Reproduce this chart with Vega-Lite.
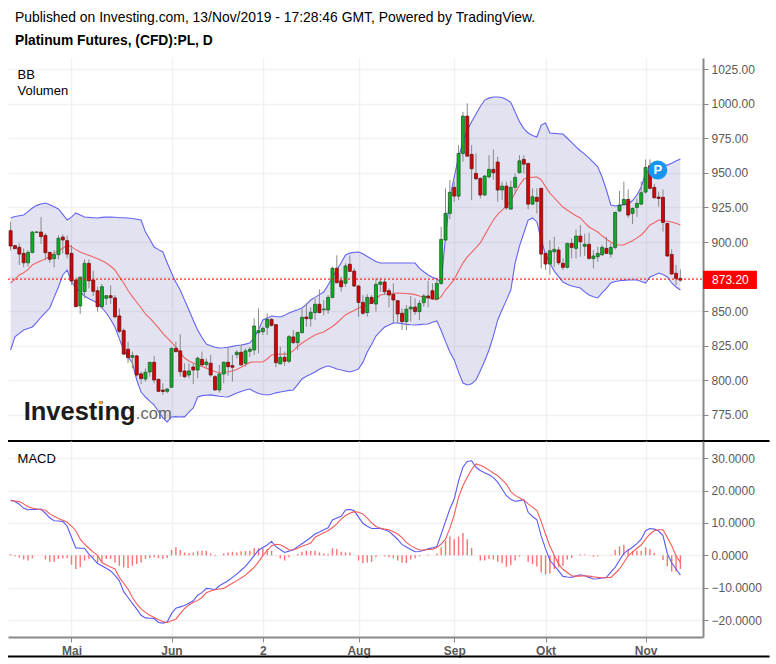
{
  "$schema": "https://vega.github.io/schema/vega-lite/v6.json",
  "padding": {"left": 7, "top": 11, "right": 6, "bottom": 6},
  "background": "white",
  "bounds": "flush",
  "spacing": 0,
  "data": {"values": [
{"i":0,"o":908.2,"h":914.7,"l":894,"c":897.1,"up":917.4,"mid":870.4,"lo":822,"macd":17.1,"sig":16.9,"hist":0.4},
{"i":1,"o":897.4,"h":897.6,"l":895,"c":895.2,"up":918.5,"mid":873,"lo":831.4,"macd":16.6,"sig":16.8,"hist":-0.3},
{"i":2,"o":896.2,"h":899,"l":883.4,"c":891.3,"up":919,"mid":876.2,"lo":834,"macd":15.8,"sig":16.6,"hist":-0.7},
{"i":3,"o":891.8,"h":895.4,"l":881.7,"c":885,"up":919.5,"mid":877.8,"lo":836.4,"macd":14.5,"sig":15.9,"hist":-1.3},
{"i":4,"o":885,"h":894.2,"l":882.2,"c":892.5,"up":922,"mid":880,"lo":837.5,"macd":14.1,"sig":15,"hist":-1.6},
{"i":5,"o":892.5,"h":908,"l":891.8,"c":907.2,"up":924.6,"mid":883.4,"lo":838.6,"macd":14.2,"sig":14.6,"hist":-0.9},
{"i":6,"o":907,"h":907.5,"l":906.8,"c":907.3,"up":926.5,"mid":885,"lo":842,"macd":14.2,"sig":14.3,"hist":0},
{"i":7,"o":907.2,"h":918,"l":898.6,"c":903.9,"up":927.5,"mid":886.5,"lo":845.8,"macd":14.3,"sig":14.1,"hist":0},
{"i":8,"o":904.8,"h":906.3,"l":887,"c":892.3,"up":928.2,"mid":887.7,"lo":849,"macd":13,"sig":14,"hist":-1.3},
{"i":9,"o":892.5,"h":893,"l":885,"c":887.5,"up":927,"mid":889.5,"lo":852.3,"macd":11.6,"sig":12.8,"hist":-2},
{"i":10,"o":888,"h":894.2,"l":881.7,"c":890.9,"up":925.5,"mid":892,"lo":860,"macd":10.7,"sig":12.1,"hist":-2},
{"i":11,"o":890.9,"h":905,"l":887.5,"c":902.7,"up":923.9,"mid":893.5,"lo":867.5,"macd":10.6,"sig":11.4,"hist":-1.1},
{"i":12,"o":903.6,"h":905.5,"l":891.8,"c":901.5,"up":920,"mid":895.5,"lo":876.2,"macd":10.5,"sig":10.8,"hist":-0.9},
{"i":13,"o":901,"h":904.6,"l":888.2,"c":891.3,"up":915.9,"mid":897.9,"lo":879.8,"macd":9,"sig":10.2,"hist":-0.9},
{"i":14,"o":891.8,"h":897.8,"l":869,"c":871.8,"up":918,"mid":896.5,"lo":871.1,"macd":5.6,"sig":9,"hist":-2.9},
{"i":15,"o":872.5,"h":873.7,"l":853,"c":853.3,"up":921,"mid":894.5,"lo":867,"macd":2.3,"sig":7.6,"hist":-4.2},
{"i":16,"o":853.8,"h":875.4,"l":848,"c":874.5,"up":919.5,"mid":892.8,"lo":863.9,"macd":2.2,"sig":5,"hist":-3.7},
{"i":17,"o":864.1,"h":887.5,"l":859.3,"c":884.6,"up":918.1,"mid":891.5,"lo":861,"macd":2.2,"sig":3.5,"hist":-1.6},
{"i":18,"o":884.6,"h":887.5,"l":866.5,"c":872,"up":917.8,"mid":890.5,"lo":859,"macd":0.4,"sig":2.2,"hist":-1.1},
{"i":19,"o":872.6,"h":879.3,"l":861,"c":864.4,"up":917.6,"mid":889.2,"lo":857.5,"macd":-1,"sig":1,"hist":-0.6},
{"i":20,"o":864.8,"h":867.7,"l":849.7,"c":853.3,"up":917.4,"mid":888,"lo":855.9,"macd":-2.5,"sig":0,"hist":-2.2},
{"i":21,"o":853.3,"h":869.7,"l":852,"c":867.7,"up":917.8,"mid":886.5,"lo":852.5,"macd":-3.2,"sig":-2.2,"hist":-2},
{"i":22,"o":859.3,"h":861.7,"l":854.5,"c":861.2,"up":918,"mid":884.8,"lo":848.7,"macd":-4,"sig":-3,"hist":-1.1},
{"i":23,"o":861.2,"h":868.7,"l":855.2,"c":859.8,"up":918.1,"mid":882.5,"lo":844,"macd":-4.8,"sig":-3.6,"hist":-1.1},
{"i":24,"o":859.6,"h":861.7,"l":844.9,"c":846,"up":917.9,"mid":879.8,"lo":838.6,"macd":-6.2,"sig":-4.2,"hist":-2.2},
{"i":25,"o":846.6,"h":852,"l":834,"c":835.5,"up":917.6,"mid":875,"lo":830,"macd":-7.85,"sig":-6.8,"hist":-3.2},
{"i":26,"o":836,"h":837.6,"l":818.4,"c":819,"up":917.5,"mid":870.4,"lo":822,"macd":-11.2,"sig":-8.6,"hist":-3.7},
{"i":27,"o":822.5,"h":828,"l":812.4,"c":816.4,"up":917.4,"mid":865,"lo":817,"macd":-13,"sig":-10.4,"hist":-3.9},
{"i":28,"o":816.7,"h":820.8,"l":808.7,"c":817.9,"up":917,"mid":860.5,"lo":812.6,"macd":-14.8,"sig":-13,"hist":-3.2},
{"i":29,"o":817.7,"h":818.4,"l":802.7,"c":803.9,"up":916.5,"mid":856.5,"lo":800.3,"macd":-16.6,"sig":-15,"hist":-2.7},
{"i":30,"o":804.7,"h":806.3,"l":797.4,"c":801.3,"up":915.9,"mid":852.5,"lo":791.6,"macd":-18.5,"sig":-16.5,"hist":-2.2},
{"i":31,"o":801,"h":808.7,"l":799.1,"c":805.9,"up":907.2,"mid":848,"lo":788,"macd":-19.3,"sig":-17.6,"hist":-1.1},
{"i":32,"o":806.1,"h":813.2,"l":802.7,"c":813.1,"up":902,"mid":845,"lo":785,"macd":-19.4,"sig":-18.5,"hist":-0.8},
{"i":33,"o":813.1,"h":817.7,"l":798,"c":800.3,"up":896.4,"mid":841.5,"lo":782.2,"macd":-19.5,"sig":-19.2,"hist":-0.6},
{"i":34,"o":800.8,"h":801,"l":791.6,"c":792.1,"up":894.5,"mid":838,"lo":777.5,"macd":-20.7,"sig":-19.9,"hist":-0.9},
{"i":35,"o":793,"h":797.9,"l":789.5,"c":792,"up":892.8,"mid":834,"lo":772.9,"macd":-20.9,"sig":-20.4,"hist":-1.1},
{"i":36,"o":792.1,"h":794.3,"l":790.7,"c":793.8,"up":885,"mid":830.7,"lo":770,"macd":-20.6,"sig":-20.7,"hist":-0.8},
{"i":37,"o":795,"h":823.7,"l":795,"c":823.2,"up":877.6,"mid":827.5,"lo":773.6,"macd":-18,"sig":-20.2,"hist":1.65},
{"i":38,"o":823.2,"h":828,"l":820.3,"c":820.8,"up":871,"mid":824.1,"lo":773.8,"macd":-16.3,"sig":-19.7,"hist":2.5},
{"i":39,"o":821.3,"h":833.3,"l":802.7,"c":806.3,"up":865.3,"mid":820,"lo":773.6,"macd":-15.9,"sig":-18,"hist":1.65},
{"i":40,"o":806.8,"h":812.4,"l":801.5,"c":802.7,"up":858,"mid":816.2,"lo":773.6,"macd":-15.5,"sig":-16.4,"hist":0.9},
{"i":41,"o":803.9,"h":812.4,"l":801.5,"c":806.8,"up":850.9,"mid":814,"lo":777,"macd":-14.8,"sig":-15.3,"hist":0.7},
{"i":42,"o":809.7,"h":812.4,"l":797.4,"c":807.5,"up":843.5,"mid":812.5,"lo":780.1,"macd":-14,"sig":-14.5,"hist":0.9},
{"i":43,"o":807.5,"h":817.2,"l":801.5,"c":816,"up":836.4,"mid":811.1,"lo":788,"macd":-12.3,"sig":-13.9,"hist":1.3},
{"i":44,"o":815.2,"h":820.8,"l":810,"c":811.2,"up":831,"mid":810,"lo":789,"macd":-11.5,"sig":-13,"hist":1.4},
{"i":45,"o":811.4,"h":816,"l":808.7,"c":813.3,"up":826.3,"mid":808.8,"lo":789.3,"macd":-10.2,"sig":-11.5,"hist":1.4},
{"i":46,"o":812.4,"h":818.4,"l":802.7,"c":803.9,"up":825,"mid":807.5,"lo":789.5,"macd":-10.3,"sig":-11,"hist":0.6},
{"i":47,"o":802.7,"h":803.9,"l":792.6,"c":793.1,"up":824,"mid":806.5,"lo":789,"macd":-10.6,"sig":-10.6,"hist":-0.3},
{"i":48,"o":793.1,"h":811.2,"l":791.2,"c":804.6,"up":823.4,"mid":805.4,"lo":788.5,"macd":-9.4,"sig":-10.4,"hist":0},
{"i":49,"o":804.6,"h":813.6,"l":797.9,"c":813.1,"up":823.6,"mid":805.7,"lo":788.2,"macd":-8.6,"sig":-10.2,"hist":0.6},
{"i":50,"o":813.1,"h":824.4,"l":803.2,"c":809.9,"up":824,"mid":806.2,"lo":788,"macd":-7.85,"sig":-9.4,"hist":0.9},
{"i":51,"o":810.7,"h":818.4,"l":799.1,"c":809.5,"up":824.6,"mid":806.8,"lo":789.5,"macd":-6.8,"sig":-8.6,"hist":1.1},
{"i":52,"o":818.6,"h":822,"l":816,"c":820.3,"up":825.2,"mid":807.8,"lo":790.9,"macd":-5.8,"sig":-7.8,"hist":0.9},
{"i":53,"o":820.3,"h":825.6,"l":810.7,"c":811.2,"up":825.6,"mid":809.5,"lo":792,"macd":-4.6,"sig":-7,"hist":1.3},
{"i":54,"o":812.4,"h":823.2,"l":810,"c":821.3,"up":826.2,"mid":811.1,"lo":793,"macd":-3.4,"sig":-6.1,"hist":1.3},
{"i":55,"o":821,"h":824,"l":817,"c":822.5,"up":827,"mid":813,"lo":793.8,"macd":-1.8,"sig":-4.9,"hist":1.4},
{"i":56,"o":822,"h":844.9,"l":818.4,"c":839.3,"up":831,"mid":813.3,"lo":792,"macd":-0.1,"sig":-3.7,"hist":2.3},
{"i":57,"o":834.5,"h":852,"l":819.6,"c":836,"up":836.4,"mid":813.3,"lo":790.5,"macd":1.6,"sig":-2,"hist":2.2},
{"i":58,"o":835.2,"h":839,"l":832.8,"c":837.6,"up":843.7,"mid":813.3,"lo":789.8,"macd":2.4,"sig":-0.1,"hist":2.2},
{"i":59,"o":838.4,"h":848.5,"l":832.8,"c":844.1,"up":845,"mid":815.5,"lo":789.5,"macd":3.2,"sig":1.5,"hist":2},
{"i":60,"o":844.1,"h":844.9,"l":838.8,"c":839.8,"up":846.5,"mid":818.4,"lo":790,"macd":4.3,"sig":3,"hist":1.4},
{"i":61,"o":840.3,"h":840.3,"l":809.5,"c":812.8,"up":846.2,"mid":818.7,"lo":791,"macd":2.7,"sig":3.4,"hist":0.1},
{"i":62,"o":811.9,"h":824.4,"l":811.9,"c":816.7,"up":845.8,"mid":819,"lo":791.6,"macd":1.8,"sig":3.3,"hist":-0.9},
{"i":63,"o":816.7,"h":820.8,"l":810.4,"c":813.8,"up":847,"mid":819,"lo":792.2,"macd":0.9,"sig":2.6,"hist":-1.6},
{"i":64,"o":813.8,"h":832.8,"l":812.4,"c":831.6,"up":848.7,"mid":819.1,"lo":792.8,"macd":1.3,"sig":1.75,"hist":-0.6},
{"i":65,"o":831.4,"h":836.4,"l":826.3,"c":827.3,"up":850,"mid":821.5,"lo":793.1,"macd":1.75,"sig":1.65,"hist":0},
{"i":66,"o":827.3,"h":834.8,"l":822,"c":834.7,"up":851,"mid":824.5,"lo":797,"macd":2.7,"sig":2.2,"hist":0.4},
{"i":67,"o":834.5,"h":851.4,"l":834,"c":845.6,"up":852.3,"mid":827,"lo":801,"macd":3.6,"sig":2.8,"hist":1.1},
{"i":68,"o":845.8,"h":855.7,"l":838.8,"c":844.6,"up":855,"mid":829,"lo":803,"macd":4.5,"sig":3.3,"hist":1.4},
{"i":69,"o":844.6,"h":852.8,"l":838.8,"c":849.2,"up":858.1,"mid":831,"lo":804.5,"macd":5.5,"sig":3.8,"hist":1.4},
{"i":70,"o":849,"h":859.3,"l":843.6,"c":855,"up":860,"mid":832.8,"lo":806.1,"macd":6.6,"sig":5.6,"hist":1.4},
{"i":71,"o":855,"h":865.8,"l":848.5,"c":849,"up":862,"mid":834,"lo":808,"macd":7.2,"sig":6.3,"hist":0.9},
{"i":72,"o":851,"h":858,"l":847,"c":851.6,"up":863.9,"mid":835,"lo":809.5,"macd":7.9,"sig":7,"hist":0.6},
{"i":73,"o":850.9,"h":861.7,"l":848,"c":860,"up":869,"mid":837,"lo":810.4,"macd":8.5,"sig":7.6,"hist":0.4},
{"i":74,"o":860,"h":882.2,"l":859.3,"c":881,"up":874.7,"mid":839,"lo":809.5,"macd":10.9,"sig":8.6,"hist":2.2},
{"i":75,"o":881,"h":890.4,"l":870.2,"c":870.6,"up":879.8,"mid":841.5,"lo":808.3,"macd":11.5,"sig":9.7,"hist":2},
{"i":76,"o":872,"h":875,"l":864.1,"c":867.7,"up":885,"mid":844.5,"lo":807.5,"macd":12.05,"sig":11.2,"hist":1.1},
{"i":77,"o":870.2,"h":884.6,"l":867.7,"c":882.7,"up":890.6,"mid":847.3,"lo":806.8,"macd":14,"sig":12.3,"hist":0.9},
{"i":78,"o":883.9,"h":890.4,"l":878.6,"c":878.8,"up":892,"mid":849,"lo":806.1,"macd":14.2,"sig":13,"hist":0.9},
{"i":79,"o":879,"h":881,"l":867.5,"c":868.2,"up":892.6,"mid":850.5,"lo":807,"macd":13.8,"sig":13.5,"hist":0},
{"i":80,"o":868.2,"h":869,"l":846,"c":856.4,"up":892.8,"mid":852.3,"lo":808.3,"macd":11.8,"sig":13.3,"hist":-1.6},
{"i":81,"o":856.4,"h":861.7,"l":847.3,"c":848.5,"up":891.5,"mid":853.5,"lo":813,"macd":9.9,"sig":12.8,"hist":-2.4},
{"i":82,"o":849,"h":862.4,"l":846.1,"c":860,"up":889.5,"mid":855,"lo":820.5,"macd":9,"sig":11.5,"hist":-2.2},
{"i":83,"o":860,"h":861.7,"l":855.2,"c":855.7,"up":887.7,"mid":856,"lo":826,"macd":8.3,"sig":10,"hist":-2},
{"i":84,"o":855.2,"h":873.8,"l":849.7,"c":869.4,"up":886,"mid":859,"lo":832,"macd":8.3,"sig":8.9,"hist":-0.6},
{"i":85,"o":869.4,"h":873.8,"l":864.1,"c":871.1,"up":884.8,"mid":861.7,"lo":835.5,"macd":8.3,"sig":8.4,"hist":0},
{"i":86,"o":871.1,"h":873,"l":861.7,"c":864.1,"up":884.8,"mid":862.2,"lo":838.6,"macd":7.9,"sig":8.1,"hist":-0.3},
{"i":87,"o":864.8,"h":866.5,"l":852.8,"c":861.7,"up":884.8,"mid":862.8,"lo":840,"macd":7.4,"sig":7.9,"hist":-0.6},
{"i":88,"o":862.2,"h":870.1,"l":841.3,"c":858.1,"up":884.8,"mid":863,"lo":841.5,"macd":6.2,"sig":7.3,"hist":-0.9},
{"i":89,"o":857.6,"h":858.1,"l":841.3,"c":848,"up":884.8,"mid":863.2,"lo":841.5,"macd":4.9,"sig":6.6,"hist":-1.6},
{"i":90,"o":848.5,"h":852,"l":836.4,"c":842.5,"up":884.8,"mid":863,"lo":841,"macd":3.3,"sig":5.5,"hist":-2.3},
{"i":91,"o":842.5,"h":854.5,"l":836.4,"c":851.4,"up":884.8,"mid":862.8,"lo":840.5,"macd":2.6,"sig":4,"hist":-2.4},
{"i":92,"o":851.6,"h":861,"l":842.5,"c":853,"up":884.8,"mid":862.5,"lo":840.2,"macd":1.8,"sig":3,"hist":-1.3},
{"i":93,"o":853,"h":859.3,"l":847.3,"c":849.7,"up":884.8,"mid":862,"lo":840,"macd":1.1,"sig":2.3,"hist":-0.9},
{"i":94,"o":849.7,"h":858.1,"l":843.6,"c":855.7,"up":881,"mid":861,"lo":840.3,"macd":1.2,"sig":1.65,"hist":-0.3},
{"i":95,"o":856.2,"h":862.4,"l":853.3,"c":861,"up":878.5,"mid":860.3,"lo":840.6,"macd":1.6,"sig":1.7,"hist":0},
{"i":96,"o":861,"h":872,"l":852.8,"c":859.8,"up":876.2,"mid":859.5,"lo":840.8,"macd":2,"sig":1.8,"hist":0.3},
{"i":97,"o":864.8,"h":870.1,"l":858.1,"c":859,"up":874.5,"mid":858.8,"lo":842,"macd":2.3,"sig":1.9,"hist":0},
{"i":98,"o":858.8,"h":872.6,"l":858.1,"c":870.1,"up":873.3,"mid":858.1,"lo":843,"macd":2.7,"sig":2.4,"hist":0.6},
{"i":99,"o":870.1,"h":911,"l":869,"c":901.9,"up":871,"mid":860.5,"lo":836,"macd":6.5,"sig":3.5,"hist":2.5},
{"i":100,"o":901.4,"h":938.8,"l":900.9,"c":920.7,"up":903.6,"mid":865.3,"lo":828,"macd":10.5,"sig":5,"hist":4.5},
{"i":101,"o":920.7,"h":944.8,"l":916.4,"c":935.9,"up":932.5,"mid":869,"lo":820.5,"macd":14.3,"sig":8.4,"hist":5.8},
{"i":102,"o":939.5,"h":943.6,"l":929.1,"c":933.2,"up":947,"mid":873,"lo":814.8,"macd":17.4,"sig":12.5,"hist":5},
{"i":103,"o":933.2,"h":970.1,"l":930.3,"c":964,"up":961.4,"mid":879,"lo":806,"macd":23,"sig":18,"hist":5.8},
{"i":104,"o":964,"h":994.1,"l":958,"c":991,"up":972,"mid":884.8,"lo":798.1,"macd":27.2,"sig":21.5,"hist":6.9},
{"i":105,"o":991,"h":1000.2,"l":961.6,"c":962.1,"up":980.9,"mid":889.2,"lo":796.7,"macd":29,"sig":24.1,"hist":5},
{"i":106,"o":963.3,"h":970.1,"l":930.3,"c":953,"up":987,"mid":892.5,"lo":797.5,"macd":29.2,"sig":26.5,"hist":2.3},
{"i":107,"o":949.6,"h":964,"l":944.8,"c":945.7,"up":992.5,"mid":896,"lo":800.3,"macd":27.2,"sig":28.2,"hist":0},
{"i":108,"o":946,"h":946.7,"l":931.5,"c":934,"up":998,"mid":899.3,"lo":807,"macd":26.2,"sig":27.8,"hist":-1.6},
{"i":109,"o":934,"h":948.4,"l":933.2,"c":947.7,"up":1002.6,"mid":905,"lo":814,"macd":25.5,"sig":27.2,"hist":-1.6},
{"i":110,"o":947.2,"h":962.8,"l":946,"c":952.5,"up":1004,"mid":910.5,"lo":822,"macd":24.9,"sig":26.3,"hist":-1.1},
{"i":111,"o":952.5,"h":966.9,"l":945,"c":950.1,"up":1004.8,"mid":915.9,"lo":832,"macd":24,"sig":25.4,"hist":-1.3},
{"i":112,"o":957.8,"h":961.6,"l":929.1,"c":937.6,"up":1004.8,"mid":920,"lo":843.7,"macd":22.6,"sig":24.6,"hist":-2},
{"i":113,"o":937.6,"h":943.6,"l":930.3,"c":940.4,"up":1004.5,"mid":923,"lo":851,"macd":20.5,"sig":23.3,"hist":-2.4},
{"i":114,"o":940.4,"h":943.6,"l":923.1,"c":924.8,"up":1003,"mid":926,"lo":858,"macd":18.4,"sig":22,"hist":-3.5},
{"i":115,"o":923.8,"h":944.3,"l":923.6,"c":939.5,"up":1001,"mid":930,"lo":865.3,"macd":17.3,"sig":19.7,"hist":-3},
{"i":116,"o":939.5,"h":949.6,"l":935,"c":946.7,"up":994,"mid":935.4,"lo":884.8,"macd":16.7,"sig":18.5,"hist":-1.6},
{"i":117,"o":950.1,"h":962.8,"l":949.6,"c":958.7,"up":987,"mid":941,"lo":897,"macd":16.9,"sig":17.7,"hist":-0.4},
{"i":118,"o":959.7,"h":962.8,"l":949.6,"c":956.3,"up":982,"mid":945.5,"lo":906.5,"macd":17.2,"sig":17.1,"hist":0},
{"i":119,"o":956.8,"h":956.8,"l":923.6,"c":927.4,"up":978.8,"mid":946.5,"lo":915.9,"macd":13.3,"sig":15.9,"hist":-2},
{"i":120,"o":927.4,"h":938.8,"l":926.7,"c":932.7,"up":977,"mid":946.8,"lo":917.4,"macd":12,"sig":14.9,"hist":-2.7},
{"i":121,"o":932.3,"h":938.8,"l":920.7,"c":929.4,"up":975.9,"mid":947,"lo":914.5,"macd":11,"sig":13.8,"hist":-3.4},
{"i":122,"o":938.8,"h":938.8,"l":881,"c":891.3,"up":984.5,"mid":945,"lo":901.5,"macd":6,"sig":10.5,"hist":-5.3},
{"i":123,"o":891.8,"h":892,"l":879.8,"c":884.1,"up":986,"mid":940,"lo":891,"macd":2,"sig":6.5,"hist":-5.9},
{"i":124,"o":884.1,"h":901.4,"l":876.2,"c":893.7,"up":978.8,"mid":935.4,"lo":884.8,"macd":-1.5,"sig":2.8,"hist":-5.6},
{"i":125,"o":893,"h":903.8,"l":882.2,"c":894.7,"up":978.5,"mid":932,"lo":879,"macd":-3.2,"sig":0,"hist":-4.2},
{"i":126,"o":894.2,"h":896.6,"l":883.4,"c":885,"up":978.3,"mid":928.5,"lo":875,"macd":-4.8,"sig":-2.7,"hist":-3.7},
{"i":127,"o":884.6,"h":888.2,"l":879.8,"c":881.7,"up":978,"mid":925.3,"lo":871.1,"macd":-6.5,"sig":-4.3,"hist":-3.2},
{"i":128,"o":881.7,"h":899.5,"l":881,"c":899,"up":975,"mid":923,"lo":869.5,"macd":-6.7,"sig":-5.3,"hist":-1.3},
{"i":129,"o":899,"h":902.6,"l":888.2,"c":896.1,"up":972,"mid":921,"lo":868.2,"macd":-6.8,"sig":-6.3,"hist":-0.8},
{"i":130,"o":895.4,"h":909,"l":888.2,"c":904.3,"up":968.7,"mid":919,"lo":867.5,"macd":-6.4,"sig":-6.4,"hist":0},
{"i":131,"o":904.3,"h":912.3,"l":889.4,"c":900.2,"up":966,"mid":917.4,"lo":866.8,"macd":-6,"sig":-6.4,"hist":0.3},
{"i":132,"o":896.9,"h":906,"l":890,"c":898.3,"up":963.5,"mid":914,"lo":864,"macd":-6.3,"sig":-6.3,"hist":0.3},
{"i":133,"o":898.3,"h":906.7,"l":887,"c":888.2,"up":960.7,"mid":910.9,"lo":861.7,"macd":-6.8,"sig":-6.4,"hist":0.1},
{"i":134,"o":888,"h":894.2,"l":881,"c":889.9,"up":957.5,"mid":909,"lo":860.5,"macd":-7.3,"sig":-6.6,"hist":-0.4},
{"i":135,"o":889.4,"h":896.6,"l":885.8,"c":891.8,"up":954.4,"mid":907.2,"lo":859.6,"macd":-7.2,"sig":-6.8,"hist":-0.3},
{"i":136,"o":890.8,"h":898,"l":889.9,"c":896.1,"up":947,"mid":904.5,"lo":863.2,"macd":-7,"sig":-6.9,"hist":0},
{"i":137,"o":895.4,"h":903.8,"l":891.3,"c":891.8,"up":937.6,"mid":902,"lo":866.5,"macd":-6.8,"sig":-6.9,"hist":0},
{"i":138,"o":891.3,"h":899,"l":888.7,"c":896.1,"up":926.8,"mid":900,"lo":870.4,"macd":-5.2,"sig":-6.8,"hist":0.2},
{"i":139,"o":896.1,"h":921.9,"l":894.7,"c":921.4,"up":926,"mid":897.9,"lo":871.5,"macd":-3.7,"sig":-5.6,"hist":1.75},
{"i":140,"o":922.4,"h":937,"l":921.9,"c":926.7,"up":926.5,"mid":897.9,"lo":872,"macd":-1.5,"sig":-4.2,"hist":2.8},
{"i":141,"o":927,"h":943.6,"l":926.7,"c":930.8,"up":927,"mid":897.9,"lo":872.3,"macd":0.6,"sig":-2.2,"hist":3.3},
{"i":142,"o":930.8,"h":938,"l":917.6,"c":919.5,"up":927.5,"mid":899.5,"lo":872.6,"macd":1.6,"sig":-0.1,"hist":2},
{"i":143,"o":920.7,"h":925,"l":913,"c":924.3,"up":930,"mid":901,"lo":872.6,"macd":2.5,"sig":1,"hist":1.4},
{"i":144,"o":925,"h":931.5,"l":918.3,"c":927.9,"up":934,"mid":903,"lo":872.6,"macd":3.6,"sig":2.2,"hist":1.4},
{"i":145,"o":927.4,"h":943.6,"l":926.7,"c":935.6,"up":939.8,"mid":905.1,"lo":871.5,"macd":5,"sig":3.2,"hist":1.4},
{"i":146,"o":936.1,"h":959.7,"l":935.1,"c":953.9,"up":949.9,"mid":908.5,"lo":870.4,"macd":7.6,"sig":5,"hist":2.5},
{"i":147,"o":955.1,"h":959.7,"l":938,"c":938.8,"up":952,"mid":912.3,"lo":874.7,"macd":8.3,"sig":6.6,"hist":2},
{"i":148,"o":939.5,"h":942,"l":931.5,"c":932,"up":955.6,"mid":914,"lo":876,"macd":8.1,"sig":7.6,"hist":0.7},
{"i":149,"o":932.5,"h":936.3,"l":925.5,"c":931.5,"up":955.6,"mid":915.9,"lo":877.6,"macd":7.5,"sig":7.9,"hist":0},
{"i":150,"o":932.3,"h":938,"l":907.5,"c":914.2,"up":955.6,"mid":915.5,"lo":876.5,"macd":6.1,"sig":7.9,"hist":-1.4},
{"i":151,"o":913.5,"h":913.5,"l":889.4,"c":889.9,"up":955.6,"mid":915,"lo":874.7,"macd":0.5,"sig":5.5,"hist":-3.4},
{"i":152,"o":891,"h":894.7,"l":876.2,"c":876.9,"up":957,"mid":914.5,"lo":870.4,"macd":-2.3,"sig":3,"hist":-5},
{"i":153,"o":877.4,"h":883.4,"l":868.9,"c":873.7,"up":958.5,"mid":913.5,"lo":867.5,"macd":-4.2,"sig":-0.1,"hist":-5},
{"i":154,"o":873.7,"h":880.2,"l":871.3,"c":872.5,"up":960,"mid":912.3,"lo":865.3,"macd":-6.1,"sig":-2.2,"hist":-4.2}
  ]},
  "vconcat": [
    {
      "width": 695,
      "height": 383,
      "title": {
        "text": "Published on Investing.com, 13/Nov/2019 - 17:28:46 GMT, Powered by TradingView.",
        "subtitle": "Platinum Futures, (CFD):PL, D",
        "anchor": "start",
        "frame": "group",
        "font": "Liberation Sans",
        "subtitleFont": "Liberation Sans",
        "fontSize": 13.9,
        "subtitleFontSize": 13.8,
        "fontWeight": "normal",
        "subtitleFontWeight": "bold",
        "color": "#000000",
        "subtitleColor": "#000000",
        "dx": 7,
        "offset": 10,
        "subtitlePadding": 9
      },
      "encoding": {
        "x": {
          "field": "i",
          "type": "quantitative",
          "scale": {"domain": [-0.6, 159.2], "nice": false, "zero": false, "padding": 0},
          "axis": {"values": [14, 37, 58, 80, 102, 123, 146], "tickCount": 20, "title": null, "labels": false, "ticks": false, "domain": false, "grid": true, "gridColor": "#f1f1f4", "gridWidth": 1.5}
        }
      },
      "layer": [
        {
          "mark": {"type": "area", "color": "#3f3f9c", "opacity": 0.15},
          "encoding": {
            "y": {
              "field": "up",
              "type": "quantitative",
              "scale": {"domain": [756.2, 1033], "nice": false, "zero": false},
              "axis": {"orient": "right", "values": [775, 800, 825, 850, 875, 900, 925, 950, 975, 1000, 1025], "tickCount": 20, "title": null, "labelOverlap": false, "labelExpr": "datum.value == 875 ? '' : format(datum.value, '.2f')", "labelFont": "Liberation Sans", "labelFontSize": 12, "labelColor": "#5a5a5a", "labelPadding": 3, "tickColor": "#888888", "tickSize": 5, "domain": true, "domainColor": "#888888", "domainWidth": 2, "grid": true, "gridColor": "#f1f1f4", "gridWidth": 1.5}
            },
            "y2": {"field": "lo"}
          }
        },
        {
          "mark": {"type": "line", "color": "#6464f0", "strokeWidth": 1.1},
          "encoding": {"y": {"field": "up", "type": "quantitative"}}
        },
        {
          "mark": {"type": "line", "color": "#6464f0", "strokeWidth": 1.1},
          "encoding": {"y": {"field": "lo", "type": "quantitative"}}
        },
        {
          "mark": {"type": "line", "color": "#f06464", "strokeWidth": 1.1},
          "encoding": {"y": {"field": "mid", "type": "quantitative"}}
        },
        {
          "mark": {"type": "rule", "color": "#8a8a8a", "strokeWidth": 1},
          "encoding": {"y": {"field": "l", "type": "quantitative"}, "y2": {"field": "h"}}
        },
        {
          "mark": {"type": "bar", "size": 3, "strokeWidth": 0.8},
          "encoding": {
            "y": {"field": "o", "type": "quantitative"},
            "y2": {"field": "c"},
            "color": {"condition": {"test": "datum.c >= datum.o", "value": "#0cb020"}, "value": "#d80000"},
            "stroke": {"condition": {"test": "datum.c >= datum.o", "value": "#1f5c2a"}, "value": "#6a1414"}
          }
        },
        {
          "data": {"values": [{"start": -0.6, "end": 159.2, "price": 873.2}]},
          "mark": {"type": "rule", "color": "#ff0000", "strokeWidth": 1, "strokeDash": [2, 2]},
          "encoding": {"x": {"field": "start", "type": "quantitative"}, "x2": {"field": "end"}, "y": {"field": "price", "type": "quantitative"}}
        },
        {
          "data": {"values": [{"from": 159.2, "to": 171.6, "top": 879.3, "bottom": 866.1}]},
          "mark": {"type": "rect", "color": "#ff0000"},
          "encoding": {"x": {"field": "from", "type": "quantitative"}, "x2": {"field": "to"}, "y": {"field": "bottom", "type": "quantitative"}, "y2": {"field": "top"}}
        },
        {
          "data": {"values": [{"pos": 165.5, "price": 872.8, "label": "873.20"}]},
          "mark": {"type": "text", "color": "#ffffff", "font": "Liberation Sans", "fontSize": 12},
          "encoding": {"x": {"field": "pos", "type": "quantitative"}, "y": {"field": "price", "type": "quantitative"}, "text": {"field": "label"}}
        },
        {
          "data": {"values": [{"start": -0.6, "end": 174.5, "price": 756.2}]},
          "mark": {"type": "rule", "color": "#000000", "strokeWidth": 2},
          "encoding": {"x": {"field": "start", "type": "quantitative"}, "x2": {"field": "end"}, "y": {"field": "price", "type": "quantitative"}}
        },
        {
          "data": {"values": [{"pos": 148.8, "price": 952}]},
          "mark": {"type": "point", "shape": "circle", "filled": true, "size": 361, "color": "#1696f0", "opacity": 1},
          "encoding": {"x": {"field": "pos", "type": "quantitative"}, "y": {"field": "price", "type": "quantitative"}}
        },
        {
          "data": {"values": [{"pos": 148.8, "price": 952, "label": "P"}]},
          "mark": {"type": "text", "color": "#ffffff", "font": "Liberation Sans", "fontSize": 13, "fontWeight": "bold"},
          "encoding": {"x": {"field": "pos", "type": "quantitative"}, "y": {"field": "price", "type": "quantitative"}, "text": {"field": "label"}}
        },
        {
          "data": {"values": [{"pos": 1.6, "price": 1021, "label": "BB"}, {"pos": 1.6, "price": 1009.4, "label": "Volumen"}]},
          "mark": {"type": "text", "align": "left", "color": "#000000", "font": "Liberation Sans", "fontSize": 13},
          "encoding": {"x": {"field": "pos", "type": "quantitative"}, "y": {"field": "price", "type": "quantitative"}, "text": {"field": "label"}}
        },
        {
          "data": {"values": [{"pos": 3, "price": 777, "label": "Investing"}]},
          "mark": {"type": "text", "align": "left", "color": "#1c1c1c", "font": "Liberation Sans", "fontSize": 25.5, "fontWeight": "bold"},
          "encoding": {"x": {"field": "pos", "type": "quantitative"}, "y": {"field": "price", "type": "quantitative"}, "text": {"field": "label"}}
        },
        {
          "data": {"values": [{"pos": 28.8, "price": 775.5, "label": ".com"}]},
          "mark": {"type": "text", "align": "left", "color": "#666666", "font": "Liberation Sans", "fontSize": 16.5},
          "encoding": {"x": {"field": "pos", "type": "quantitative"}, "y": {"field": "price", "type": "quantitative"}, "text": {"field": "label"}}
        },
        {
          "data": {"values": [{"pos": 20.7, "price": 784}]},
          "mark": {"type": "point", "shape": "circle", "filled": true, "size": 14, "color": "#f7a11a", "opacity": 1},
          "encoding": {"x": {"field": "pos", "type": "quantitative"}, "y": {"field": "price", "type": "quantitative"}}
        }
      ]
    },
    {
      "width": 695,
      "height": 196,
      "encoding": {
        "x": {
          "field": "i",
          "type": "quantitative",
          "scale": {"domain": [-0.6, 159.2], "nice": false, "zero": false, "padding": 0},
          "axis": {"values": [14, 37, 58, 80, 102, 123, 146], "tickCount": 20, "title": null, "labelOverlap": false, "labelExpr": "['Mai', 'Jun', '2', 'Aug', 'Sep', 'Okt', 'Nov'][indexof([14, 37, 58, 80, 102, 123, 146], datum.value)]", "labelFont": "Liberation Sans", "labelFontSize": 12, "labelFontWeight": "bold", "labelColor": "#5a5a5a", "labelPadding": 3, "tickColor": "#888888", "tickSize": 5, "domainColor": "#888888", "domainWidth": 2, "grid": true, "gridColor": "#f1f1f4", "gridWidth": 1.5}
        }
      },
      "layer": [
        {
          "mark": {"type": "rule", "color": "#ff7070", "strokeWidth": 1.4},
          "encoding": {
            "y": {
              "field": "hist",
              "type": "quantitative",
              "scale": {"domain": [-25.2, 35.3], "nice": false, "zero": false},
              "axis": {"orient": "right", "values": [-20, -10, 0, 10, 20, 30], "tickCount": 20, "title": null, "labelOverlap": false, "format": ".4f", "labelFont": "Liberation Sans", "labelFontSize": 12, "labelColor": "#5a5a5a", "labelPadding": 3, "tickColor": "#888888", "tickSize": 5, "domain": true, "domainColor": "#888888", "domainWidth": 2, "grid": true, "gridColor": "#f1f1f4", "gridWidth": 1.5}
            },
            "y2": {"datum": 0}
          }
        },
        {
          "mark": {"type": "line", "color": "#5a5af5", "strokeWidth": 1.1},
          "encoding": {"y": {"field": "macd", "type": "quantitative"}}
        },
        {
          "mark": {"type": "line", "color": "#f55a5a", "strokeWidth": 1.1},
          "encoding": {"y": {"field": "sig", "type": "quantitative"}}
        },
        {
          "data": {"values": [{"pos": 1.6, "value": 29.8, "label": "MACD"}]},
          "mark": {"type": "text", "align": "left", "color": "#000000", "font": "Liberation Sans", "fontSize": 13},
          "encoding": {"x": {"field": "pos", "type": "quantitative"}, "y": {"field": "value", "type": "quantitative"}, "text": {"field": "label"}}
        },
        {
          "data": {"values": [{"start": -0.6, "end": 174.5, "value": -31.2}]},
          "mark": {"type": "rule", "color": "#000000", "strokeWidth": 2},
          "encoding": {"x": {"field": "start", "type": "quantitative"}, "x2": {"field": "end"}, "y": {"field": "value", "type": "quantitative"}}
        }
      ]
    }
  ],
  "config": {"view": {"stroke": null}, "axis": {"zindex": 0}}
}
